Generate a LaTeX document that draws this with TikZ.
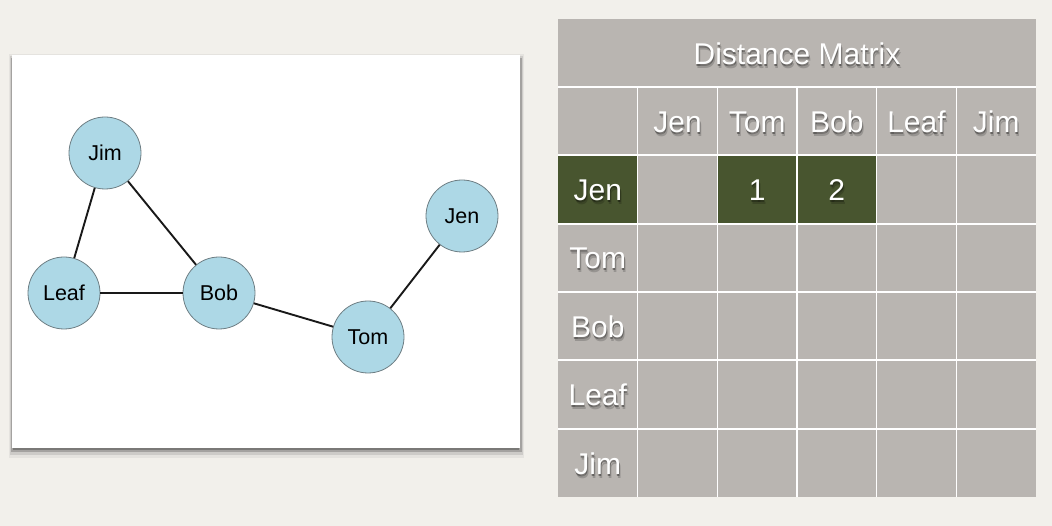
\documentclass[tikz,border=0pt]{standalone}
\usepackage{fontspec}
\setmainfont{Liberation Sans}
\definecolor{bg}{HTML}{F2F0EB}
\definecolor{cellgray}{HTML}{B9B5B1}
\definecolor{cellgreen}{HTML}{48552F}
\definecolor{nodeblue}{HTML}{ADD8E6}
\definecolor{nodeedge}{HTML}{6E7E84}
\newcommand\shlabel[3]{%
  \node[shadowtext, opacity=0.18] (#1-s2) at ($(#2)+(1.5,4)$) {#3};
  \node[shadowtext] (#1-s) at ($(#2)+(0.5,2.2)$) {#3};
  \node[celltext] (#1) at (#2) {#3};}
\usetikzlibrary{calc}
\begin{document}
\begin{tikzpicture}[x=1pt,y=-1pt,
  gnode/.style={circle, fill=nodeblue, draw=nodeedge, line width=0.8pt, minimum size=72pt, inner sep=0pt, font=\fontsize{21.5}{21.5}\selectfont, text=black},
  edge/.style={line width=1.9pt, black!90},
  celltext/.style={text=white, font=\fontsize{30}{30}\selectfont, inner sep=0pt},
  shadowtext/.style={text=black, opacity=0.35, font=\fontsize{30}{30}\selectfont, inner sep=0pt},
  grid/.style={white, line width=1.2pt},
]
% background
\fill[bg] (0,0) rectangle (1052,526);

% graph panel with shadow
\fill[black,opacity=0.05] (9,54) rectangle (524,458);
\fill[black,opacity=0.10] (10,56) rectangle (523,455);
\fill[black,opacity=0.20] (11,58) rectangle (522,452);
\fill[black,opacity=0.25] (13,60) rectangle (519,450);
\fill[white] (12,55) rectangle (520,448);

% graph nodes
\node[gnode] (Jim)  at (105,153) {Jim};
\node[gnode] (Leaf) at (64,293)  {Leaf};
\node[gnode] (Bob)  at (219,293) {Bob};
\node[gnode] (Tom)  at (368,337) {Tom};
\node[gnode] (Jen)  at (462,216) {Jen};

% graph edges
\draw[edge] (Jim) -- (Leaf);
\draw[edge] (Jim) -- (Bob);
\draw[edge] (Leaf) -- (Bob);
\draw[edge] (Bob) -- (Tom);
\draw[edge] (Tom) -- (Jen);

% table
\fill[cellgray] (558,19) rectangle (1036,497);
\fill[cellgreen] (558,155) rectangle (637.7,224);
\fill[cellgreen] (717.3,155) rectangle (876.7,224);
\foreach \y in {87,155,224,292,360,429}
  \draw[grid] (558,\y) -- (1036,\y);
\foreach \x in {637.7,717.3,797,876.7,956.3}
  \draw[grid] (\x,87) -- (\x,497);

% title
\shlabel{title}{797,53.5}{Distance Matrix}
% header row
\shlabel{hJen}{677.5,122}{Jen}
\shlabel{hTom}{757.2,122}{Tom}
\shlabel{hBob}{836.8,122}{Bob}
\shlabel{hLeaf}{916.5,122}{Leaf}
\shlabel{hJim}{996.2,122}{Jim}
% row labels
\shlabel{rJen}{597.8,190}{Jen}
\shlabel{rTom}{597.8,258.5}{Tom}
\shlabel{rBob}{597.8,326.5}{Bob}
\shlabel{rLeaf}{597.8,395}{Leaf}
\shlabel{rJim}{597.8,463.5}{Jim}
% values
\shlabel{vTom}{757.2,190}{1}
\shlabel{vBob}{836.8,190}{2}
\end{tikzpicture}
\end{document}
